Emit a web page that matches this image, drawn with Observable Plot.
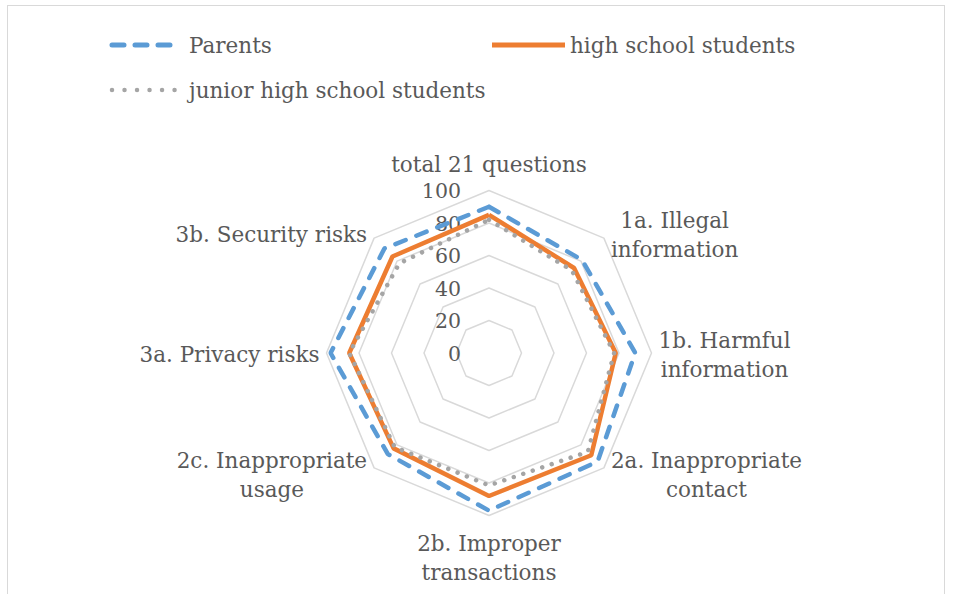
<!DOCTYPE html>
<html>
<head>
<meta charset="utf-8">
<script src="https://cdn.jsdelivr.net/npm/d3@7"></script>
<script src="https://cdn.jsdelivr.net/npm/@observablehq/plot@0.6"></script>
<style>
  html, body { margin: 0; padding: 0; background: #fff; }
  #wrap { position: relative; width: 956px; height: 594px; overflow: hidden; font-family: "DejaVu Serif", serif; color: #595959; }
  #frame { position: absolute; left: 7px; top: 5px; width: 938px; height: 620px; border: 1.5px solid #d9d9d9; box-sizing: border-box; }
  #legend { position: absolute; left: 0; top: 0; width: 956px; height: 110px; }
  .item { position: absolute; display: flex; align-items: center; font-size: 21.5px; white-space: nowrap; }
  .item svg { margin-right: 8px; }
  #chart { position: absolute; left: 0; top: 110px; }
</style>
</head>
<body>
<div id="wrap">
  <div id="frame"></div>
  <div id="legend"></div>
  <div id="chart"></div>
</div>
<script>
// ---- data ----
const categories = [
  "total 21 questions",
  "1a. Illegal\ninformation",
  "1b. Harmful\ninformation",
  "2a. Inappropriate\ncontact",
  "2b. Improper\ntransactions",
  "2c. Inappropriate\nusage",
  "3a. Privacy risks",
  "3b. Security risks"
];
const seriesNames = ["Parents", "high school students", "junior high school students"];
const parents = [90, 81, 90, 94.5, 97, 88, 97.5, 91];
const highSchool = [85, 74, 78, 89, 88, 83, 86, 84];
const juniorHigh = [82, 72, 77, 86, 81.5, 82, 86, 78];
const ringTicks = [0, 20, 40, 60, 80, 100];
const ringValues = [20, 40, 60, 80, 100];

// ---- styles ----
const colors = ["#5B9BD5", "#ED7D31", "#A5A5A5"];
const dashes = ["11 11.5", null, "0.01 10"];
const FONT = '"DejaVu Serif", serif';
const FS = 21.5;

// ---- geometry ----
const W = 956, H = 484;
const cx = 488.5, cy = 242.5, k = 1.625; // px per unit
const n = categories.length;
const ang = i => (i * 2 * Math.PI) / n; // clockwise from top
const px = (v, i) => v * Math.sin(ang(i));
const py = (v, i) => v * Math.cos(ang(i));

const seriesData = [parents, highSchool, juniorHigh];
const lineRows = (vals, name) => {
  const r = vals.map((v, i) => ({ x: px(v, i), y: py(v, i), s: name }));
  r.push({ ...r[0] });
  return r;
};
const gridRows = ringValues.flatMap(v => {
  const r = categories.map((_, i) => ({ x: px(v, i), y: py(v, i), ring: v }));
  r.push({ ...r[0] });
  return r;
});

// label positions (measure text to mimic centered blocks outside vertices)
const ctx = document.createElement("canvas").getContext("2d");
ctx.font = `${FS}px ${FONT}`;
const LH = 29;
const labelRows = categories.map((t, i) => {
  const lines = t.split("\n");
  const w = Math.max(...lines.map(l => ctx.measureText(l).width));
  const h = lines.length * LH;
  const vx = px(100, i) * k, vy = -py(100, i) * k; // pixel offsets from center
  const s = Math.sin(ang(i)), c = Math.cos(ang(i));
  let ox = vx, oy = vy;
  if (Math.abs(s) < 1e-6) {
    oy = c > 0 ? vy - 13 - h / 2 : vy + 12 + h / 2;
  } else {
    ox = vx + Math.sign(s) * (7 + w / 2);
    oy = vy - c * 7;
  }
  return { x: ox / k, y: -oy / k, text: t };
});

const tickRows = ringTicks.map(v => ({ x: 0, y: v, label: String(v) }));

const plot = Plot.plot({
  width: W,
  height: H,
  margin: 0,
  style: { fontFamily: FONT, fontSize: FS + "px", color: "#595959", background: "transparent" },
  x: { type: "linear", domain: [-cx / k, (W - cx) / k], range: [0, W], axis: null },
  y: { type: "linear", domain: [-(H - cy) / k, cy / k], range: [H, 0], axis: null },
  marks: [
    Plot.line(gridRows, { x: "x", y: "y", z: "ring", stroke: "#d9d9d9", strokeWidth: 1.5 }),
    Plot.text(tickRows, { x: "x", y: "y", text: "label", textAnchor: "end", dx: -28, dy: 1, fill: "#595959", fontSize: 20.5 }),
    ...seriesData.map((vals, j) =>
      Plot.line(lineRows(vals, seriesNames[j]), {
        x: "x", y: "y",
        stroke: colors[j],
        strokeWidth: 4.5,
        strokeDasharray: dashes[j] || undefined,
        strokeLinecap: dashes[j] ? "round" : "butt",
        strokeLinejoin: "miter"
      })
    ),
    Plot.text(labelRows, { x: "x", y: "y", text: "text", textAnchor: "middle", lineHeight: LH / FS, fill: "#595959", fontSize: FS })
  ]
});
document.getElementById("chart").appendChild(plot);

// ---- legend ----
const legendPos = [
  { left: 110, top: 45 },
  { left: 495, top: 45 },
  { left: 110, top: 90 }
];
const legend = document.getElementById("legend");
seriesNames.forEach((name, j) => {
  const d = document.createElement("div");
  d.className = "item";
  d.style.left = (legendPos[j].left - 3) + "px";
  d.style.top = (legendPos[j].top - 14) + "px";
  d.style.height = "28px";
  const dash = j === 0 ? 'stroke-dasharray="12 11" stroke-linecap="round"' : j === 2 ? 'stroke-dasharray="0.01 12.5" stroke-linecap="round"' : '';
  d.innerHTML = `<svg width="74" height="14"><line x1="${j===1?0:5}" y1="7" x2="${j===1?73:71}" y2="7" stroke="${colors[j]}" stroke-width="${j===2?4.5:5}" ${dash}/></svg><span>${name}</span>`;
  if (j === 1) d.querySelector("svg").style.marginRight = "4px";
  legend.appendChild(d);
});
</script>
</body>
</html>
